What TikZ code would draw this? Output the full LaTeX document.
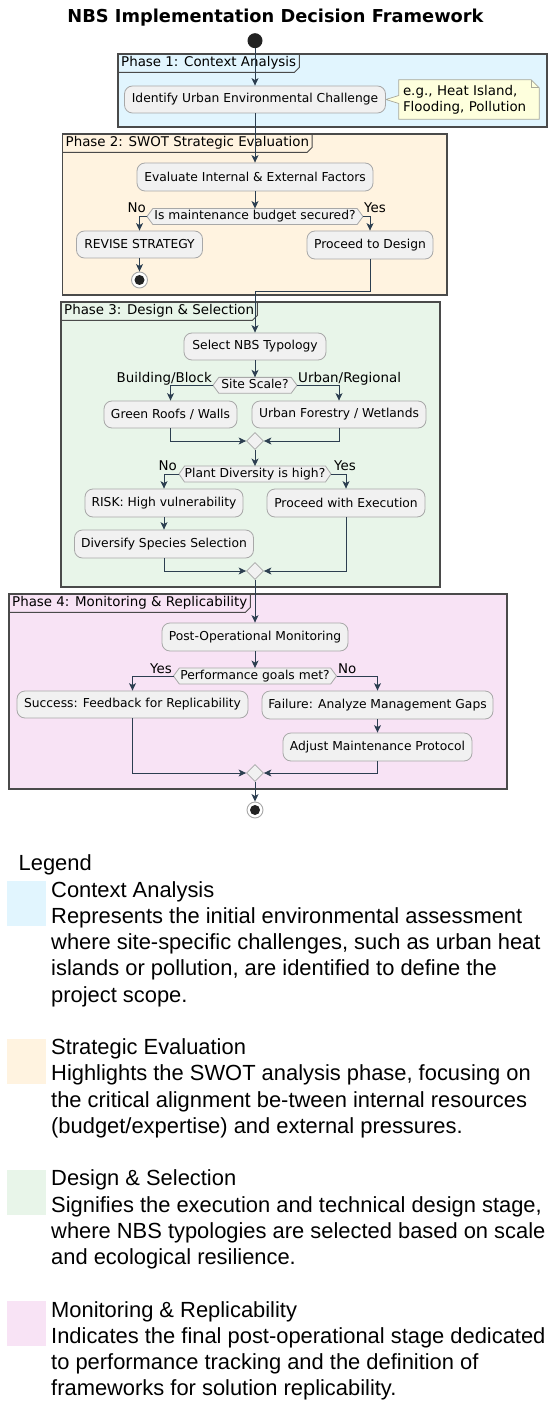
\documentclass[tikz,border=0pt]{standalone}
\usepackage{fontspec}
\setmainfont{DejaVu Sans}
\newfontfamily\legfont{Liberation Sans}
\usetikzlibrary{arrows.meta,shapes.geometric}
\pgfdeclarelayer{back}
\pgfdeclarelayer{frames}
\pgfdeclarelayer{shapes}
\pgfsetlayers{back,frames,shapes,main}

\definecolor{pone}{HTML}{E1F5FE}
\definecolor{ptwo}{HTML}{FFF3E0}
\definecolor{pthree}{HTML}{E8F5E9}
\definecolor{pfour}{HTML}{F8E3F5}
\definecolor{actfill}{HTML}{F1F1F1}
\definecolor{actdraw}{HTML}{A8A8A8}
\definecolor{arrowc}{HTML}{2C3E50}
\definecolor{framec}{HTML}{4A4A4A}
\definecolor{notefill}{HTML}{FEFFDD}
\definecolor{notedraw}{HTML}{A9A99A}
\definecolor{dotc}{HTML}{222222}

\newcommand{\actfont}{\fontsize{12.3}{14}\selectfont}
\newcommand{\lblfont}{\fontsize{13.4}{16}\selectfont}
\newcommand{\legfnt}{\legfont\fontsize{21.9}{26}\selectfont}

\tikzset{
  act/.style={draw=actdraw, fill=actfill, rounded corners=8pt, line width=0.8pt,
    minimum height=28, inner sep=0pt, font=\actfont, text=black},
  dtext/.style={font=\actfont, inner sep=0pt, minimum height=15.5, text height=9, text depth=2.5},
  hexd/.style={draw=actdraw, fill=actfill, line width=0.8pt},
  arr/.style={draw=arrowc, line width=0.9pt, -{Stealth[length=7.5pt,width=7pt,inset=2pt]}},
  lbl/.style={font=\lblfont, inner sep=0pt},
  tabl/.style={font=\lblfont, inner xsep=3pt, inner ysep=0pt, minimum height=18, text height=10, text depth=3},
  framed/.style={draw=framec, line width=1.2pt},
  tabline/.style={draw=framec, line width=0.9pt},
  merge/.style={diamond, draw=actdraw, fill=actfill, line width=0.8pt, minimum width=17, minimum height=17, inner sep=0pt},
  endouter/.style={circle, draw=actdraw, fill=white, line width=0.9pt, minimum size=16, inner sep=0pt},
  startc/.style={circle, fill=dotc, minimum size=15, inner sep=0pt},
  notetxt/.style={font=\lblfont, inner xsep=4pt, inner ysep=0pt, minimum width=140, minimum height=39, text width=132, align=left},
  legtxt/.style={font=\legfnt, inner sep=0pt, anchor=base west}
}

\newcommand{\mydec}[5]{%
  \node[dtext, minimum width={2*#4-12}] (#1) at (#2,#3) {#5};
  \coordinate (#1L) at ({#2-#4},#3);
  \coordinate (#1R) at ({#2+#4},#3);
  \begin{pgfonlayer}{shapes}
    \draw[hexd] (#1.north west) -- (#1.north east) -- (#1R) -- (#1.south east) -- (#1.south west) -- (#1L) -- cycle;
  \end{pgfonlayer}}

\newcommand{\myphase}[7]{%
  \node[tabl, anchor=north west] (#1) at (#2,#3) {#7};
  \begin{pgfonlayer}{frames}
    \draw[framed, fill=#6] (#2,#3) rectangle (#4,#5);
    \draw[tabline] (#1.north east) -- ([yshift=5pt]#1.south east) -- ([xshift=-5pt]#1.south east) -- (#1.south west);
  \end{pgfonlayer}}

\begin{document}
\begin{tikzpicture}[x=1pt,y=-1pt]
\begin{pgfonlayer}{back}
  \fill[white] (0,0) rectangle (550,1404);
\end{pgfonlayer}
\useasboundingbox (0,0) rectangle (550,1404);

% title
\node[font=\bfseries\fontsize{17.8}{20}\selectfont, inner sep=0pt, anchor=base] (title) at (275.5,22.7) {NBS Implementation Decision Framework};

% phase frames
\myphase{ph1}{118}{54}{547}{127}{pone}{Phase 1: Context Analysis}
\myphase{ph2}{62.5}{134}{447}{295}{ptwo}{Phase 2: SWOT Strategic Evaluation}
\myphase{ph3}{61}{302}{440}{587}{pthree}{Phase 3: Design \& Selection}
\myphase{ph4}{9}{594}{507}{789}{pfour}{Phase 4: Monitoring \& Replicability}

% phase 1
\node[startc] (start) at (255,40.7) {};
\node[act, minimum width=261, minimum height=27] (identify) at (255,99.5) {Identify Urban Environmental Challenge};
\node[notetxt] (note) at (469,99.5) {e.g., Heat Island,\\Flooding, Pollution};
\begin{pgfonlayer}{shapes}
  \draw[draw=notedraw, fill=notefill, line width=0.7pt]
    (note.north west) -- ([xshift=-8pt]note.north east) -- ([yshift=-8pt]note.north east)
    -- (note.south east) -- (note.south west) -- ([yshift=-4pt]note.west)
    -- (identify.east) -- ([yshift=4pt]note.west) -- cycle;
  \draw[draw=notedraw, line width=0.7pt] ([xshift=-8pt]note.north east) -- ([xshift=-8pt,yshift=-8pt]note.north east) -- ([yshift=-8pt]note.north east);
\end{pgfonlayer}

% phase 2
\node[act, minimum width=236] (evaluate) at (255,177) {Evaluate Internal \& External Factors};
\mydec{dA}{255}{216.5}{108}{Is maintenance budget secured?}
\node[lbl, anchor=base east] (dAno) at (146,213) {No};
\node[lbl, anchor=base west] (dAyes) at (364,213) {Yes};
\node[act, minimum width=126, minimum height=27] (revise) at (139.5,244.5) {REVISE STRATEGY};
\node[endouter] (endA) at (139.5,280) {};
\fill[dotc] (endA.center) circle (5);
\node[act, minimum width=126] (proceedA) at (370,245) {Proceed to Design};
\coordinate (jA) at (255,291);

% phase 3
\node[act, minimum width=142, minimum height=27] (select) at (255,346.5) {Select NBS Typology};
\mydec{dS}{255}{385.3}{42}{Site Scale?}
\node[lbl, anchor=base east] (dSl) at (212,382) {Building/Block};
\node[lbl, anchor=base west] (dSr) at (298,382) {Urban/Regional};
\node[act, minimum width=133, minimum height=27] (green) at (170.5,414.5) {Green Roofs / Walls};
\node[act, minimum width=174, minimum height=27] (forestry) at (339,414.5) {Urban Forestry / Wetlands};
\node[merge] (mA) at (255,441) {};
\mydec{dB}{255}{474}{76}{Plant Diversity is high?}
\node[lbl, anchor=base east] (dBno) at (177,470) {No};
\node[lbl, anchor=base west] (dByes) at (334,470) {Yes};
\node[act, minimum width=158] (risk) at (164,503) {RISK: High vulnerability};
\node[act, minimum width=179] (diversify) at (164,544) {Diversify Species Selection};
\node[act, minimum width=158] (execution) at (346,503) {Proceed with Execution};
\node[merge] (mB) at (255,571) {};

% phase 4
\node[act, minimum width=186] (postop) at (255,637) {Post-Operational Monitoring};
\mydec{dC}{255}{676}{81.5}{Performance goals met?}
\node[lbl, anchor=base east] (dCyes) at (172,673) {Yes};
\node[lbl, anchor=base west] (dCno) at (338,673) {No};
\node[act, minimum width=231, minimum height=27] (success) at (132.5,704.5) {Success: Feedback for Replicability};
\node[act, minimum width=231] (failure) at (377.5,705) {Failure: Analyze Management Gaps};
\node[act, minimum width=189] (adjust) at (377.5,747) {Adjust Maintenance Protocol};
\node[merge] (mC) at (255,773) {};
\node[endouter] (endB) at (255,810) {};
\fill[dotc] (endB.center) circle (5);

% connectors
\draw[arr] (start) -- (identify);
\draw[arr] (identify) -- (evaluate);
\draw[arr] (evaluate) -- (dA);
\draw[arr] (dAL) -| (revise);
\draw[arr] (revise) -- (endA);
\draw[arr] (dAR) -| (proceedA);
\draw[arr] (proceedA) |- (jA) -- (select);
\draw[arr] (select) -- (dS);
\draw[arr] (dSL) -| (green);
\draw[arr] (dSR) -| (forestry);
\draw[arr] (green) |- (mA);
\draw[arr] (forestry) |- (mA);
\draw[arr] (mA) -- (dB);
\draw[arr] (dBL) -| (risk);
\draw[arr] (dBR) -| (execution);
\draw[arr] (risk) -- (diversify);
\draw[arr] (diversify) |- (mB);
\draw[arr] (execution) |- (mB);
\draw[arr] (mB) -- (postop);
\draw[arr] (postop) -- (dC);
\draw[arr] (dCL) -| (success);
\draw[arr] (dCR) -| (failure);
\draw[arr] (failure) -- (adjust);
\draw[arr] (success) |- (mC);
\draw[arr] (adjust) |- (mC);
\draw[arr] (mC) -- (endB);

% legend
\node[legtxt] (lgtitle) at (18.5,870.74) {Legend};
\fill[pone] (7,881) rectangle (46,926);
\node[legtxt] (lg0) at (51,897) {Context Analysis};
\node[legtxt] (lg1) at (51,923.26) {Represents the initial environmental assessment};
\node[legtxt] (lg2) at (51,949.52) {where site-specific challenges, such as urban heat};
\node[legtxt] (lg3) at (51,975.78) {islands or pollution, are identified to define the};
\node[legtxt] (lg4) at (51,1002.04) {project scope.};
\fill[ptwo] (7,1038.5) rectangle (46,1083.5);
\node[legtxt] (lg6) at (51,1054.56) {Strategic Evaluation};
\node[legtxt] (lg7) at (51,1080.82) {Highlights the SWOT analysis phase, focusing on};
\node[legtxt] (lg8) at (51,1107.08) {the critical alignment be-tween internal resources};
\node[legtxt] (lg9) at (51,1133.34) {(budget/expertise) and external pressures.};
\fill[pthree] (7,1169.9) rectangle (46,1214.9);
\node[legtxt] (lg11) at (51,1185.86) {Design \& Selection};
\node[legtxt] (lg12) at (51,1212.12) {Signifies the execution and technical design stage,};
\node[legtxt] (lg13) at (51,1238.38) {where NBS typologies are selected based on scale};
\node[legtxt] (lg14) at (51,1264.64) {and ecological resilience.};
\fill[pfour] (7,1301.2) rectangle (46,1346.2);
\node[legtxt] (lg16) at (51,1317.16) {Monitoring \& Replicability};
\node[legtxt] (lg17) at (51,1343.42) {Indicates the final post-operational stage dedicated};
\node[legtxt] (lg18) at (51,1369.68) {to performance tracking and the definition of};
\node[legtxt] (lg19) at (51,1395.94) {frameworks for solution replicability.};
\end{tikzpicture}
\end{document}
